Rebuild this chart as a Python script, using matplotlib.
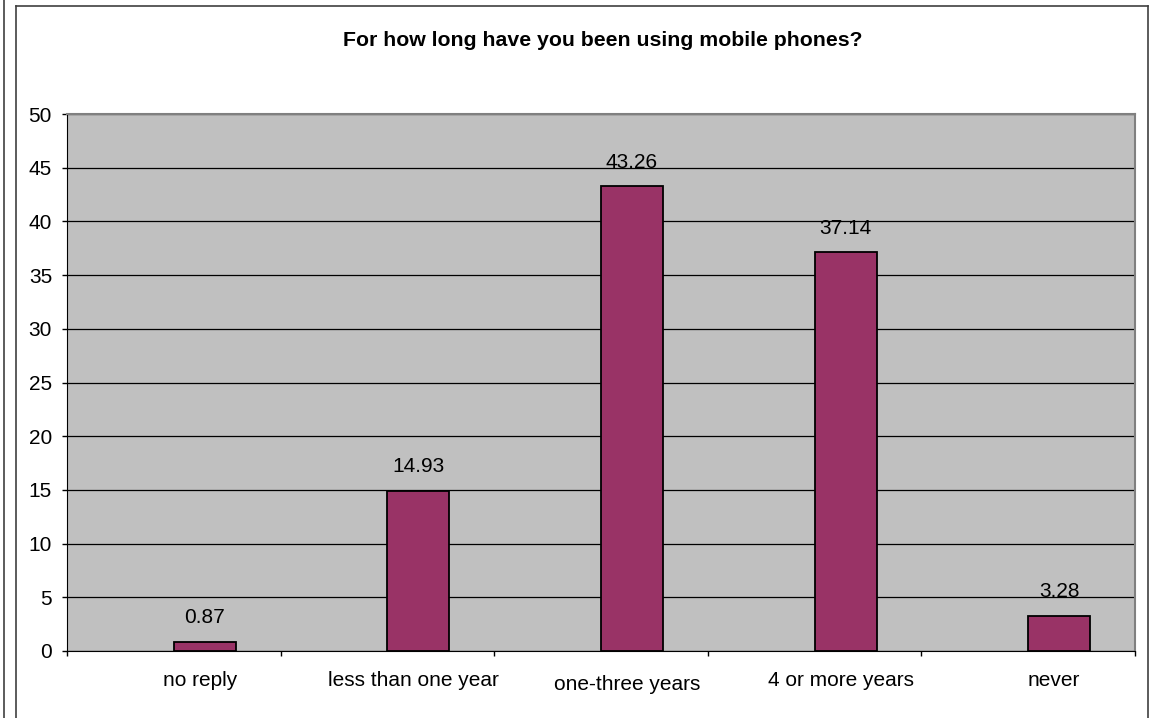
import numpy as np
import matplotlib
matplotlib.use("Agg")
import matplotlib.pyplot as plt
from matplotlib.lines import Line2D

plt.rcParams["font.family"] = ["Liberation Sans", "DejaVu Sans"]

categories = ["no reply", "less than one year", "one-three years", "4 or more years", "never"]
values = [0.87, 14.93, 43.26, 37.14, 3.28]
y_ticks = [0, 5, 10, 15, 20, 25, 30, 35, 40, 45, 50]
title = "For how long have you been using mobile phones?"

W, H = 1153, 718
fig = plt.figure(figsize=(W / 100, H / 100), dpi=100)
fig.patch.set_facecolor("white")
PT = 100 / 72  # pixels per point

# plot area in pixel coordinates
left, right, top, bottom = 67, 1135, 114, 651
ax = fig.add_axes([left / W, 1 - bottom / H, (right - left) / W, (bottom - top) / H])
ax.set_facecolor("#C0C0C0")

n = len(categories)
x = np.arange(n)
bar_w = 0.29
# bars sit in the right half of each category slot
ax.bar(x + 0.5, values, width=bar_w, align="edge", color="#993366",
       edgecolor="black", linewidth=1.3, zorder=3)

for xi, v in zip(x, values):
    ax.annotate(f"{v:.2f}", (xi + 0.5 + bar_w / 2, v), xytext=(0, 24 / PT),
                textcoords="offset points", ha="center", va="center",
                fontsize=15, zorder=4)

ax.set_xlim(0, n)
ax.set_ylim(0, 50)
ax.set_yticks(y_ticks)
ax.yaxis.grid(True, color="black", linewidth=0.9, zorder=1)
ax.set_axisbelow(True)
ax.tick_params(axis="y", direction="out", length=5 / PT, width=1,
               labelsize=15, pad=10 / PT)

# tick marks on category boundaries, labels under the bars
ax.set_xticks(np.arange(n + 1))
ax.set_xticklabels([])
ax.tick_params(axis="x", direction="out", length=5 / PT, width=1)
for i, lab in enumerate(categories):
    dy = 29 if i != 2 else 33
    ax.annotate(lab, (i + 0.5 + bar_w / 2, 0), xytext=(-5 / PT, -dy / PT),
                textcoords="offset points", ha="center", va="center",
                fontsize=15, annotation_clip=False)

for side in ("top", "right"):
    ax.spines[side].set_color("#808080")
    ax.spines[side].set_linewidth(1.5)
ax.spines["left"].set_color("black")
ax.spines["bottom"].set_color("black")

fig.text(603 / W, 1 - 40 / H, title, ha="center", va="center",
         fontsize=15.3, fontweight="bold")

# chart frame
def px_line(xs, ys, color="#404040", lw=1.2):
    fig.add_artist(Line2D([xx / W for xx in xs], [1 - yy / H for yy in ys],
                          color=color, linewidth=lw, transform=fig.transFigure))

px_line([4, 4], [0, H])
px_line([16, 16], [6, H])
px_line([16, 1148], [6, 6])
px_line([1148, 1148], [6, H])

fig.savefig("out.png", dpi=100)
